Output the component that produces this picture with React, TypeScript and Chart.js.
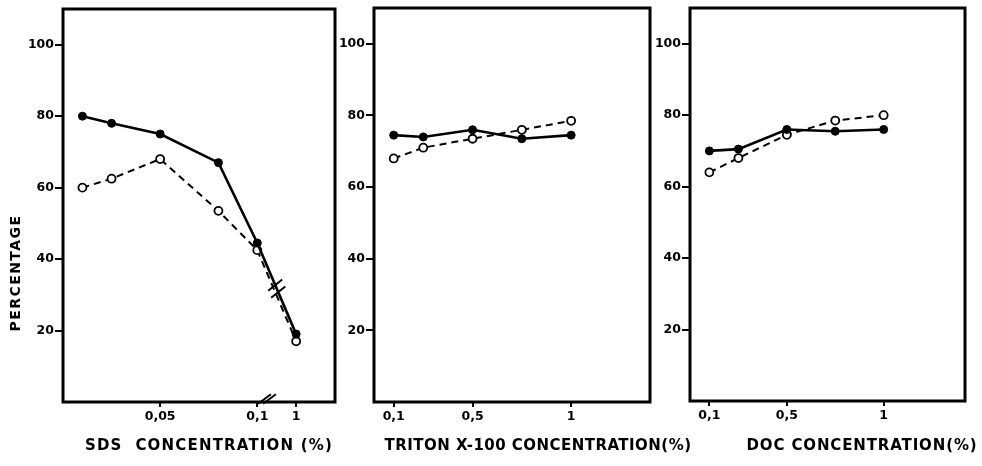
import React, { useEffect, useRef } from 'react';
import { Chart, registerables } from 'chart.js';

Chart.register(...registerables);

// ---- data ----
const Y_TICKS = [20, 40, 60, 80, 100];

const SDS_CONC = [0.01, 0.025, 0.05, 0.08, 0.1, 1];
const SDS_FILLED = [80, 78, 75, 67, 44.5, 19];
const SDS_OPEN = [60, 62.5, 68, 53.5, 42.5, 17];
const SDS_TICKS = [0.05, 0.1, 1];
const SDS_TICK_LABELS = ['0,05', '0,1', '1'];

const TRITON_CONC = [0.1, 0.25, 0.5, 0.75, 1];
const TRITON_FILLED = [74.5, 74, 76, 73.5, 74.5];
const TRITON_OPEN = [68, 71, 73.5, 76, 78.5];

const DOC_CONC = [0.1, 0.25, 0.5, 0.75, 1];
const DOC_FILLED = [70, 70.5, 76, 75.5, 76];
const DOC_OPEN = [64, 68, 74.5, 78.5, 80];

const CONC_TICKS = [0.1, 0.5, 1];
const CONC_TICK_LABELS = ['0,1', '0,5', '1'];

const FONT = '"DejaVu Sans", sans-serif';

// broken SDS axis: concentrations above the break are drawn at 0.12
const sdsAxis = (c: number) => (c > 0.1 ? 0.12 : c);
const plainAxis = (c: number) => c;

type PanelProps = {
  left: number;
  width: number;
  yAxisWidth: number;
  padTop: number;
  padRight: number;
  xAxisHeight: number;
  xMax: number;
  conc: number[];
  filled: number[];
  open: number[];
  ticks: number[];
  tickLabels: string[];
  toAxis: (c: number) => number;
  title: string;
  titleOffset: number;
  titleWidth: number;
  yTitle?: string;
  breaks?: boolean;
};

function fitText(ctx: CanvasRenderingContext2D, text: string, target: number) {
  (ctx as any).letterSpacing = '0px';
  const w = ctx.measureText(text).width;
  const ls = (target - w) / text.length;
  (ctx as any).letterSpacing = `${ls}px`;
}

function drawSlash(ctx: CanvasRenderingContext2D, cx: number, cy: number, dx: number, dy: number, half: number) {
  const n = Math.hypot(dx, dy);
  const ux = dx / n, uy = dy / n;
  ctx.beginPath();
  ctx.moveTo(cx - ux * half, cy - uy * half);
  ctx.lineTo(cx + ux * half, cy + uy * half);
  ctx.stroke();
}

function Panel(p: PanelProps) {
  const ref = useRef<HTMLCanvasElement>(null);
  useEffect(() => {
    const canvas = ref.current!;
    const decor = {
      id: 'decor',
      afterDraw(chart: any) {
        const ctx: CanvasRenderingContext2D = chart.ctx;
        const a = chart.chartArea;
        ctx.save();
        // frame
        ctx.strokeStyle = '#000';
        ctx.lineWidth = 3;
        ctx.strokeRect(a.left, a.top, a.right - a.left, a.bottom - a.top);
        // x title
        ctx.fillStyle = '#000';
        ctx.font = `bold 15px ${FONT}`;
        ctx.textAlign = 'center';
        ctx.textBaseline = 'middle';
        fitText(ctx, p.title, p.titleWidth);
        ctx.fillText(p.title, a.left + p.titleOffset, 446);
        // y title
        if (p.yTitle) {
          ctx.save();
          ctx.translate(16, 273);
          ctx.rotate(-Math.PI / 2);
          ctx.font = `bold 14px ${FONT}`;
          fitText(ctx, p.yTitle, 117);
          ctx.fillText(p.yTitle, 0, 0);
          ctx.restore();
        }
        // break marks
        if (p.breaks) {
          const xs = chart.scales.x;
          const ys = chart.scales.y;
          ctx.lineWidth = 2;
          // axis break
          const bx = xs.getPixelForValue(0.105);
          drawSlash(ctx, bx - 2.5, a.bottom - 3, 1, -0.75, 8);
          drawSlash(ctx, bx + 2.5, a.bottom - 3, 1, -0.75, 8);
          // line break on the curves
          const n = SDS_CONC.length;
          const x0 = sdsAxis(SDS_CONC[n - 2]);
          const x1 = sdsAxis(SDS_CONC[n - 1]);
          const xm = 0.11;
          const t = (xm - x0) / (x1 - x0);
          const ym = SDS_FILLED[n - 2] + t * (SDS_FILLED[n - 1] - SDS_FILLED[n - 2]);
          const px = xs.getPixelForValue(xm);
          const py = ys.getPixelForValue(ym);
          drawSlash(ctx, px - 1.5, py - 3.5, 1, -0.8, 9);
          drawSlash(ctx, px + 1.5, py + 3.5, 1, -0.8, 9);
        }
        ctx.restore();
      },
    };
    const tickFont = { family: FONT, size: 12.5, weight: 'bold' as const, lineHeight: 1 };
    const chart = new Chart(canvas, {
      type: 'line',
      data: {
        datasets: [
          {
            data: p.conc.map((c, i) => ({ x: p.toAxis(c), y: p.filled[i] })),
            borderColor: '#000',
            borderWidth: 2.6,
            pointRadius: 4,
            pointBackgroundColor: '#000',
            pointBorderColor: '#000',
            pointBorderWidth: 1,
            fill: false,
            tension: 0,
          },
          {
            data: p.conc.map((c, i) => ({ x: p.toAxis(c), y: p.open[i] })),
            borderColor: '#000',
            borderWidth: 2,
            borderDash: [7, 5],
            pointRadius: 4,
            pointBackgroundColor: '#fff',
            pointBorderColor: '#000',
            pointBorderWidth: 1.8,
            fill: false,
            tension: 0,
          },
        ],
      },
      options: {
        responsive: false,
        animation: false,
        devicePixelRatio: 1,
        layout: { padding: { top: p.padTop, right: p.padRight, left: 0, bottom: 0 } },
        plugins: { legend: { display: false }, tooltip: { enabled: false } },
        scales: {
          x: {
            type: 'linear',
            min: 0,
            max: p.xMax,
            afterBuildTicks: (s: any) => {
              s.ticks = p.ticks.map((t) => ({ value: p.toAxis(t) }));
            },
            afterFit: (s: any) => {
              s.height = p.xAxisHeight;
            },
            ticks: {
              autoSkip: false,
              maxRotation: 0,
              color: '#000',
              padding: 3,
              font: tickFont,
              callback: (_v: any, i: number) => p.tickLabels[i],
            },
            grid: { drawOnChartArea: false, tickLength: 5, color: '#000', lineWidth: 2 },
            border: { display: false },
          },
          y: {
            type: 'linear',
            min: 0,
            max: 110,
            afterBuildTicks: (s: any) => {
              s.ticks = Y_TICKS.map((v) => ({ value: v }));
            },
            afterFit: (s: any) => {
              s.width = p.yAxisWidth;
            },
            ticks: {
              color: '#000',
              padding: 1,
              font: tickFont,
              callback: (v: any) => String(v),
            },
            grid: { drawOnChartArea: false, tickLength: 8, color: '#000', lineWidth: 2 },
            border: { display: false },
          },
        },
      } as any,
      plugins: [decor],
    });
    return () => chart.destroy();
  }, []);
  return (
    <canvas
      ref={ref}
      width={p.width}
      height={466}
      style={{ position: 'absolute', left: p.left, top: 0, width: p.width, height: 466 }}
    />
  );
}

export default function App() {
  return (
    <div
      style={{
        position: 'fixed',
        left: 0,
        top: 0,
        width: 982,
        height: 466,
        background: '#fff',
        overflow: 'hidden',
      }}
    >
      <Panel
        left={0}
        width={345}
        yAxisWidth={63}
        padTop={9}
        padRight={10}
        xAxisHeight={64}
        xMax={0.14}
        conc={SDS_CONC}
        filled={SDS_FILLED}
        open={SDS_OPEN}
        ticks={SDS_TICKS}
        tickLabels={SDS_TICK_LABELS}
        toAxis={sdsAxis}
        title="SDS  CONCENTRATION (%)"
        titleOffset={146}
        titleWidth={248}
        yTitle="PERCENTAGE"
        breaks
      />
      <Panel
        left={338}
        width={362}
        yAxisWidth={36}
        padTop={8}
        padRight={50}
        xAxisHeight={64}
        xMax={1.4}
        conc={TRITON_CONC}
        filled={TRITON_FILLED}
        open={TRITON_OPEN}
        ticks={CONC_TICKS}
        tickLabels={CONC_TICK_LABELS}
        toAxis={plainAxis}
        title="TRITON X-100 CONCENTRATION(%)"
        titleOffset={164}
        titleWidth={307}
      />
      <Panel
        left={655}
        width={327}
        yAxisWidth={35}
        padTop={8}
        padRight={17}
        xAxisHeight={65}
        xMax={1.42}
        conc={DOC_CONC}
        filled={DOC_FILLED}
        open={DOC_OPEN}
        ticks={CONC_TICKS}
        tickLabels={CONC_TICK_LABELS}
        toAxis={plainAxis}
        title="DOC CONCENTRATION(%)"
        titleOffset={172}
        titleWidth={231}
      />
    </div>
  );
}
